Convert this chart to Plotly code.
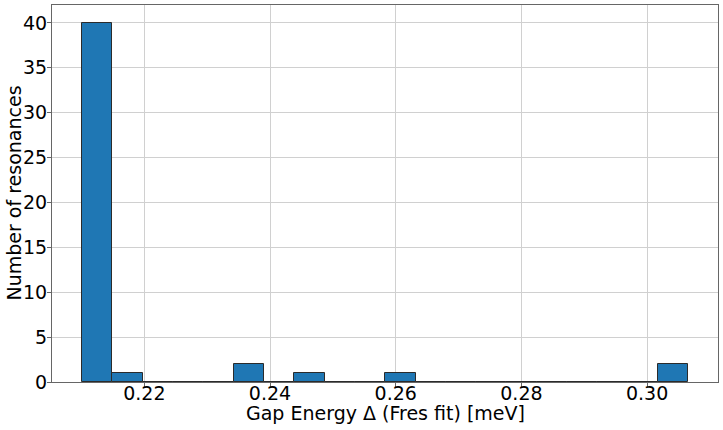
import numpy as np
import plotly.graph_objects as go

# Histogram data: 20 bins
bin_start = 0.21009
bin_end = 0.30656
counts = [40, 1, 0, 0, 0, 2, 0, 1, 0, 0, 1, 0, 0, 0, 0, 0, 0, 0, 0, 2]
x_ticks = [0.22, 0.24, 0.26, 0.28, 0.30]
x_tick_labels = ["0.22", "0.24", "0.26", "0.28", "0.30"]
y_ticks = [0, 5, 10, 15, 20, 25, 30, 35, 40]
x_title = "Gap Energy Δ (Fres fit) [meV]"
y_title = "Number of resonances"

edges = np.linspace(bin_start, bin_end, len(counts) + 1)
centers = (edges[:-1] + edges[1:]) / 2
widths = np.diff(edges)

fig = go.Figure()
fig.add_trace(go.Bar(
    x=centers, y=counts, width=widths,
    marker=dict(color="#1f77b4", line=dict(color="#2b2b2b", width=1)),
))

font = "DejaVu Sans, sans-serif"
fig.update_layout(
    width=723, height=430,
    margin=dict(l=52, r=5, t=5, b=48),
    paper_bgcolor="white", plot_bgcolor="white",
    font=dict(family=font, size=19, color="black"),
    showlegend=False,
    bargap=0,
)
fig.update_xaxes(
    range=[0.20531, 0.31128],
    tickvals=x_ticks, ticktext=x_tick_labels,
    showgrid=True, gridcolor="#d0d0d0", gridwidth=1,
    showline=True, linecolor="#666666", linewidth=1, mirror=True,
    ticks="outside", ticklen=4, tickcolor="#666666",
    zeroline=False, automargin=False,
    ticklabelstandoff=-10,
    tickfont=dict(size=19),
)
fig.update_yaxes(
    range=[0, 42],
    tickvals=y_ticks,
    showgrid=True, gridcolor="#d0d0d0", gridwidth=1,
    showline=True, linecolor="#666666", linewidth=1, mirror=True,
    ticks="outside", ticklen=4, tickcolor="#666666",
    zeroline=False, automargin=False,
    ticklabelstandoff=-4,
    tickfont=dict(size=19),
)
fig.add_annotation(text=x_title, xref="paper", yref="paper", x=0.5, y=0,
                   xanchor="center", yanchor="middle", yshift=-31, borderpad=0,
                   showarrow=False, font=dict(size=19))
fig.add_annotation(text=y_title, xref="paper", yref="paper", x=0, y=0.5,
                   xanchor="center", yanchor="middle", xshift=-39, textangle=-90,
                   borderpad=0, showarrow=False, font=dict(size=19))

fig.write_html("out.html", config={"displayModeBar": False},
               post_script="document.body.style.margin='0';")
